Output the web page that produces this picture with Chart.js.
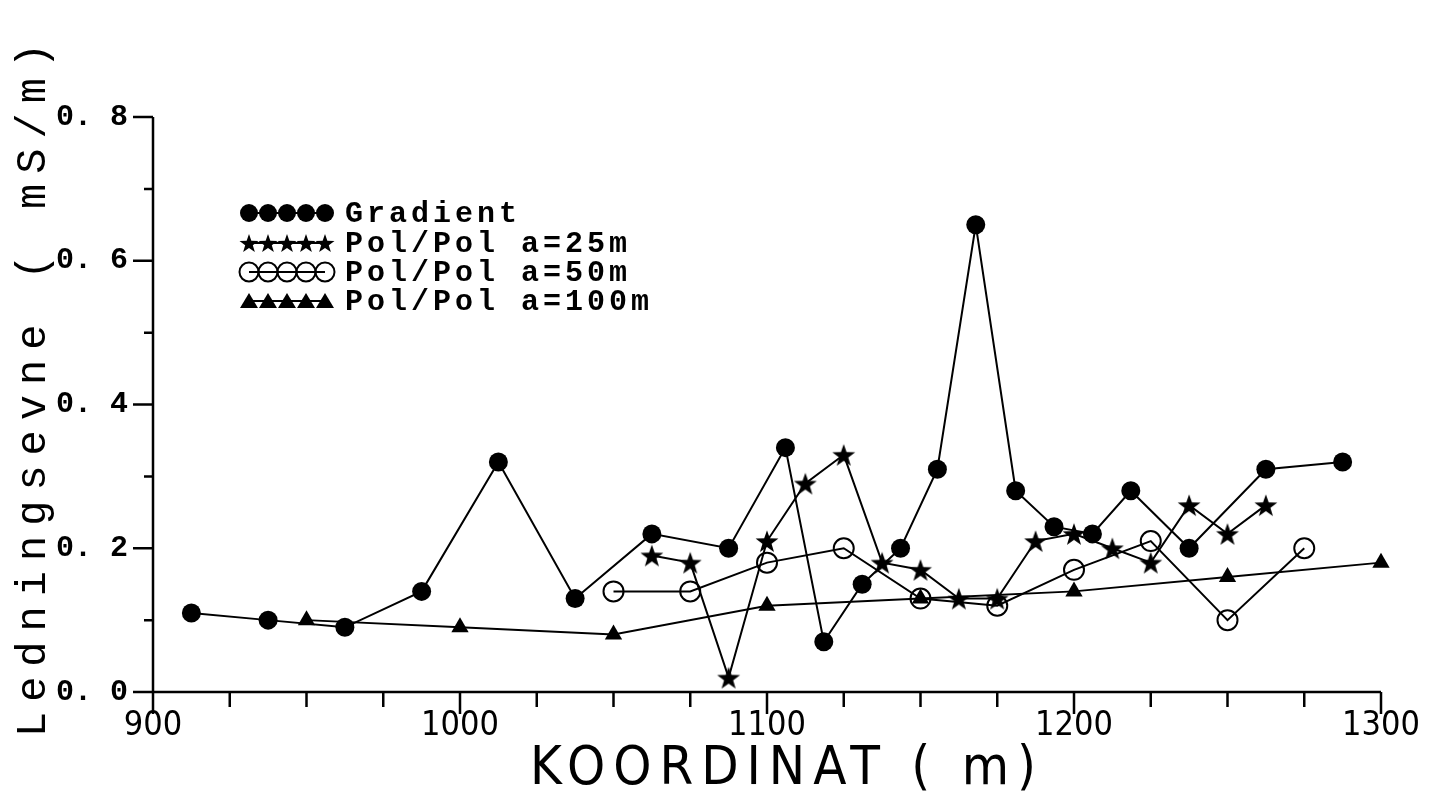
<!DOCTYPE html>
<html>
<head>
<meta charset="utf-8">
<script src="https://cdn.jsdelivr.net/npm/chart.js@4.4.0/dist/chart.umd.min.js"></script>
<style>
  html, body { margin: 0; padding: 0; background: #fff; }
</style>
</head>
<body>
<canvas id="myChart" width="1436" height="801"></canvas>
<script>
// data
let gradient_x = [912.5, 937.5, 962.5, 987.5, 1012.5, 1037.5, 1062.5, 1087.5, 1106, 1118.5, 1131, 1143.5, 1155.5, 1168, 1181, 1193.5, 1206, 1218.5, 1237.5, 1262.5, 1287.5];
let gradient_y = [0.11, 0.10, 0.09, 0.14, 0.32, 0.13, 0.22, 0.20, 0.34, 0.07, 0.15, 0.20, 0.31, 0.65, 0.28, 0.23, 0.22, 0.28, 0.20, 0.31, 0.32];

let pol25_x = [1062.5, 1075, 1087.5, 1100, 1112.5, 1125, 1137.5, 1150, 1162.5, 1175, 1187.5, 1200, 1212.5, 1225, 1237.5, 1250, 1262.5];
let pol25_y = [0.19, 0.18, 0.02, 0.21, 0.29, 0.33, 0.18, 0.17, 0.13, 0.13, 0.21, 0.22, 0.20, 0.18, 0.26, 0.22, 0.26];

let pol50_x = [1050, 1075, 1100, 1125, 1150, 1175, 1200, 1225, 1250, 1275];
let pol50_y = [0.14, 0.14, 0.18, 0.20, 0.13, 0.12, 0.17, 0.21, 0.10, 0.20];

let pol100_x = [950, 1000, 1050, 1100, 1150, 1200, 1250, 1300];
let pol100_y = [0.10, 0.09, 0.08, 0.12, 0.13, 0.14, 0.16, 0.18];

let series_names = ['Gradient', 'Pol/Pol a=25m', 'Pol/Pol a=50m', 'Pol/Pol a=100m'];
let x_title = 'KOORDINAT ( m)';
let y_title = 'Ledningsevne ( mS/m)';
let x_min = 900, x_max = 1300, x_step = 100, x_minor = 25;
let y_min = 0, y_max = 0.8, y_step = 0.2, y_minor = 0.1;

function to_points(xs, ys) {
  return xs.map((x, i) => ({ x: x, y: ys[i] }));
}

// filled five point star as a point image
function make_star(r_out, r_in) {
  const c = document.createElement('canvas');
  const s = Math.ceil(r_out * 2 + 4);
  c.width = s;
  c.height = s;
  const g = c.getContext('2d');
  g.translate(s / 2, s / 2 + r_out * 0.1);
  g.beginPath();
  for (let i = 0; i < 10; i++) {
    const r = i % 2 === 0 ? r_out : r_in;
    const a = -Math.PI / 2 + i * Math.PI / 5;
    g.lineTo(r * Math.cos(a), r * Math.sin(a));
  }
  g.closePath();
  g.fillStyle = '#000';
  g.fill();
  return c;
}
const star_img = make_star(12, 4.8);
const star_small = make_star(10, 4);

function spaced_text(ctx, text, x, y, spacing, align) {
  ctx.letterSpacing = spacing + 'px';
  let w = ctx.measureText(text).width - spacing;
  let sx = align === 'center' ? x - w / 2 : x;
  ctx.textAlign = 'left';
  ctx.fillText(text, sx, y);
  ctx.letterSpacing = '0px';
}

//  axes, ticks, titles and legend
const frame_plugin = {
  id: 'frame_plugin',
  afterDraw(chart) {
    const ctx = chart.ctx;
    const xs = chart.scales.x;
    const ys = chart.scales.y;
    const left = xs.getPixelForValue(x_min);
    const right = xs.getPixelForValue(x_max);
    const bottom = ys.getPixelForValue(y_min);
    const top = ys.getPixelForValue(y_max);
    ctx.save();
    ctx.strokeStyle = '#000';
    ctx.lineWidth = 2.5;
    ctx.lineCap = 'butt';
    ctx.beginPath();
    ctx.moveTo(left, top);
    ctx.lineTo(left, bottom);
    ctx.lineTo(right, bottom);
    for (let v = x_min; v <= x_max + 0.01; v += x_minor) {
      const p = xs.getPixelForValue(v);
      const len = (v - x_min) % x_step === 0 ? 22 : 15;
      ctx.moveTo(p, bottom);
      ctx.lineTo(p, bottom + len);
    }
    const n = Math.round((y_max - y_min) / y_minor);
    for (let i = 0; i <= n; i++) {
      const p = ys.getPixelForValue(y_min + i * y_minor);
      const len = i % 2 === 0 ? 20 : 9;
      ctx.moveTo(left, p);
      ctx.lineTo(left - len, p);
    }
    ctx.stroke();

    // axis titles
    ctx.fillStyle = '#000';
    ctx.textBaseline = 'alphabetic';
    ctx.font = '54px "Liberation Sans Narrow", "DejaVu Sans Condensed", sans-serif';
    spaced_text(ctx, x_title, 783, 784, 8, 'center');

    ctx.save();
    ctx.translate(45, 390);
    ctx.rotate(-Math.PI / 2);
    ctx.font = '42px "Liberation Mono", monospace';
    spaced_text(ctx, y_title, 0, 0, 10, 'center');
    ctx.restore();

    // legend
    const rows = [213, 243, 272, 301];
    const mx = [249, 268, 287, 306, 325];
    ctx.font = 'bold 30px "Liberation Mono", monospace';
    ctx.textBaseline = 'middle';
    rows.forEach((ry, k) => {
      ctx.lineWidth = 2;
      ctx.beginPath();
      ctx.moveTo(mx[0], ry);
      ctx.lineTo(mx[4], ry);
      ctx.stroke();
      mx.forEach(cx => {
        if (k === 0) {
          ctx.beginPath();
          ctx.arc(cx, ry, 9, 0, Math.PI * 2);
          ctx.fill();
        } else if (k === 1) {
          ctx.drawImage(star_small, cx - star_small.width / 2, ry - star_small.height / 2);
        } else if (k === 2) {
          ctx.beginPath();
          ctx.arc(cx, ry, 9.5, 0, Math.PI * 2);
          ctx.stroke();
        } else {
          ctx.beginPath();
          ctx.moveTo(cx, ry - 8);
          ctx.lineTo(cx + 9, ry + 7);
          ctx.lineTo(cx - 9, ry + 7);
          ctx.closePath();
          ctx.fill();
        }
      });
      spaced_text(ctx, series_names[k], 345, ry + 1, 4, 'left');
    });
    ctx.restore();
  }
};

const base_set = {
  showLine: true,
  borderColor: '#000',
  borderWidth: 2,
  pointBorderColor: '#000',
  pointHoverRadius: 0,
  clip: false,
  tension: 0
};

const ctx = document.getElementById('myChart').getContext('2d');
const myChart = new Chart(ctx, {
  type: 'scatter',
  data: {
    datasets: [
      Object.assign({}, base_set, {
        label: series_names[0],
        data: to_points(gradient_x, gradient_y),
        pointStyle: 'circle',
        pointRadius: 9.5,
        pointBackgroundColor: '#000',
        pointBorderWidth: 0
      }),
      Object.assign({}, base_set, {
        label: series_names[1],
        data: to_points(pol25_x, pol25_y),
        pointStyle: star_img,
        pointRadius: 12
      }),
      Object.assign({}, base_set, {
        label: series_names[2],
        data: to_points(pol50_x, pol50_y),
        pointStyle: 'circle',
        pointRadius: 10,
        pointBackgroundColor: 'rgba(0,0,0,0)',
        pointBorderWidth: 2
      }),
      Object.assign({}, base_set, {
        label: series_names[3],
        data: to_points(pol100_x, pol100_y),
        pointStyle: 'triangle',
        pointRadius: 10,
        pointBackgroundColor: '#000',
        pointBorderWidth: 0
      })
    ]
  },
  options: {
    responsive: false,
    animation: false,
    events: [],
    layout: { padding: { left: 0, right: 55, top: 117, bottom: 0 } },
    plugins: {
      legend: { display: false },
      tooltip: { enabled: false }
    },
    scales: {
      x: {
        type: 'linear',
        min: x_min,
        max: x_max,
        grid: { display: false, drawTicks: false },
        border: { display: false },
        ticks: {
          stepSize: x_step,
          padding: 14,
          color: '#000',
          font: { family: '"Liberation Sans Narrow", "DejaVu Sans Condensed", sans-serif', size: 34 },
          callback: (v) => String(v)
        },
        afterFit: (scale) => { scale.height = 109; }
      },
      y: {
        type: 'linear',
        min: y_min,
        max: y_max,
        grid: { display: false, drawTicks: false },
        border: { display: false },
        ticks: {
          stepSize: y_step,
          padding: 25,
          color: '#000',
          font: { family: '"Liberation Mono", monospace', size: 30, weight: 'bold' },
          callback: (v) => v.toFixed(1).replace('.', '. ')
        },
        afterFit: (scale) => { scale.width = 153; }
      }
    }
  },
  plugins: [frame_plugin]
});
</script>
</body>
</html>
